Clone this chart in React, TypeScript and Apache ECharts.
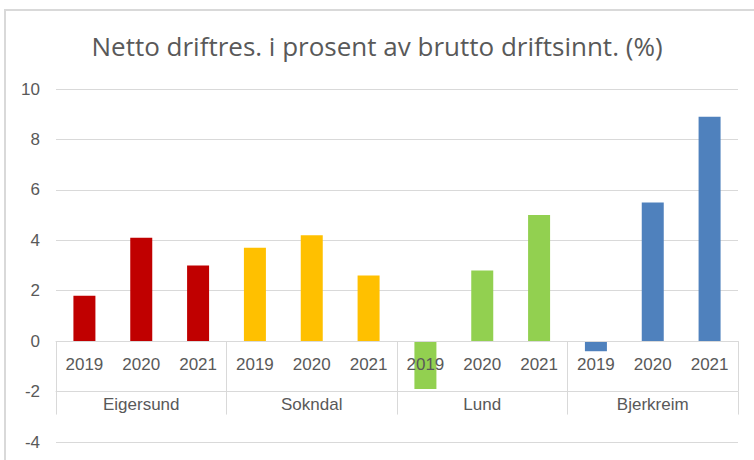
import React, { useEffect, useRef } from "react";
import * as echarts from "echarts";

const title = "Netto driftres. i prosent av brutto driftsinnt. (%)";
const years = ["2019", "2020", "2021"];
const municipalities = ["Eigersund", "Sokndal", "Lund", "Bjerkreim"];
const eigersund = [1.8, 4.1, 3.0];
const sokndal = [3.7, 4.2, 2.6];
const lund = [-1.9, 2.8, 5.0];
const bjerkreim = [-0.4, 5.5, 8.9];
const groupColors = ["#C00000", "#FFC000", "#92D050", "#4F81BD"];
const yTicks = { min: -4, max: 10, interval: 2 };

export default function App() {
  const ref = useRef<HTMLDivElement>(null);
  useEffect(() => {
    if (!ref.current) return;
    const chart = echarts.init(ref.current, null, { renderer: "svg" });
    const groups = [eigersund, sokndal, lund, bjerkreim];
    const categories: string[] = [];
    const data: any[] = [];
    groups.forEach((vals, gi) => {
      vals.forEach((v, i) => {
        categories.push(years[i]);
        data.push({ value: v, itemStyle: { color: groupColors[gi] } });
      });
    });
    const gridTop = 89;
    const gridBottom = 18;
    const gridHeight = 460 - gridTop - gridBottom;
    const step = gridHeight / ((yTicks.max - yTicks.min) / yTicks.interval);
    const zeroOffset = -step * ((0 - yTicks.min) / yTicks.interval);
    const groupOffset = -step * ((-2 - yTicks.min) / yTicks.interval);
    const font = "Liberation Sans";
    const gray = "#595959";
    const lineGray = "#D9D9D9";
    chart.setOption({
      animation: false,
      textStyle: { fontFamily: font },
      title: {
        text: title,
        left: "center",
        top: 28,
        textStyle: { fontFamily: "Open Sans", fontSize: 26, fontWeight: "normal", color: gray },
      },
      graphic: [
        {
          type: "rect",
          shape: { x: 5, y: 10, width: 800, height: 500 },
          style: { fill: "none", stroke: lineGray, lineWidth: 2 },
          silent: true,
        },
      ],
      grid: { left: 56, right: 16, top: gridTop, bottom: gridBottom, outerBoundsMode: "none", containLabel: false },
      xAxis: [
        {
          type: "category",
          data: categories,
          position: "bottom",
          offset: zeroOffset,
          z: 5,
          axisLine: { onZero: false, lineStyle: { color: lineGray, width: 1 } },
          axisTick: { show: false },
          axisLabel: { interval: 0, color: gray, fontSize: 17, margin: 15, fontFamily: font },
        },
        {
          type: "category",
          data: municipalities,
          position: "bottom",
          offset: groupOffset,
          axisLine: { onZero: false, lineStyle: { color: lineGray, width: 1 } },
          axisTick: { show: true, inside: true, length: step, interval: 0, lineStyle: { color: lineGray } },
          axisLabel: { show: false },
        },
        {
          type: "category",
          data: municipalities,
          position: "bottom",
          offset: groupOffset,
          axisLine: { show: false, onZero: false },
          axisTick: { show: true, inside: false, length: 23, interval: 0, lineStyle: { color: lineGray } },
          axisLabel: { interval: 0, color: gray, fontSize: 17, margin: 4, fontFamily: font },
        },
      ],
      yAxis: {
        type: "value",
        min: yTicks.min,
        max: yTicks.max,
        interval: yTicks.interval,
        axisLine: { show: false },
        axisTick: { show: false },
        axisLabel: { color: gray, fontSize: 17, margin: 16, fontFamily: font },
        splitLine: { lineStyle: { color: lineGray, width: 1 } },
      },
      series: [
        {
          type: "bar",
          xAxisIndex: 0,
          data,
          barWidth: 22,
          z: 2,
        },
      ],
    });
    return () => chart.dispose();
  }, []);
  return (
    <div
      ref={ref}
      style={{ position: "fixed", left: 0, top: 0, width: 754, height: 460, background: "#fff" }}
    />
  );
}
